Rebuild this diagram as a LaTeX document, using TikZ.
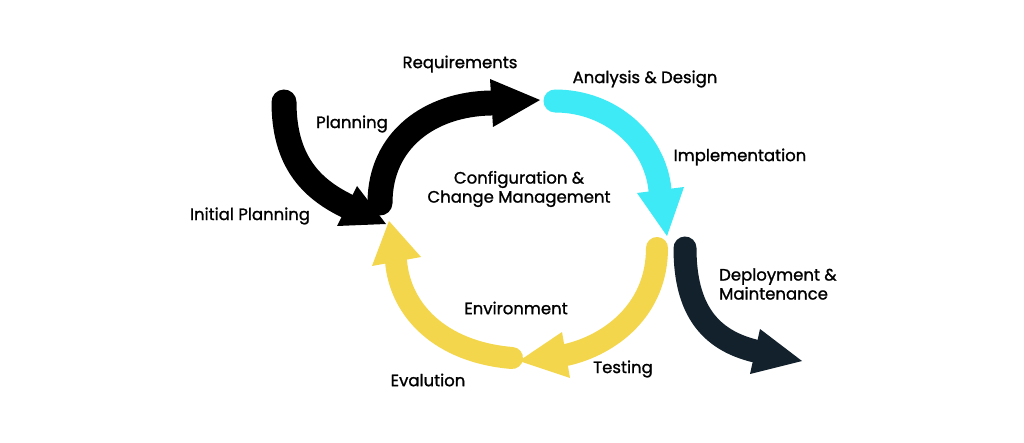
\documentclass[tikz,border=0pt]{standalone}
\usepackage{fontspec}
\setmainfont{Poppins}[FakeBold=1.2]
\definecolor{cblack}{HTML}{000000}
\definecolor{ccyan}{HTML}{3EEAF5}
\definecolor{cyellow}{HTML}{F3D64B}
\definecolor{cnavy}{HTML}{13212C}
\begin{document}
\begin{tikzpicture}[x=1pt,y=-1pt,
  shaft/.style={line width=25pt,line cap=round},
  lbl/.style={font=\fontsize{16.5}{19}\selectfont,text=black,inner sep=0pt},
  lblml/.style={lbl,align=left,anchor=west},
  lblc/.style={lbl,align=center}]
\useasboundingbox (0,0) rectangle (1024,443);
\fill[white] (0,0) rectangle (1024,443);
% Planning (black)
\draw[shaft,cblack] (284,102) .. controls (284,160) and (310,188) .. (347,206);
\fill[cblack] (337,226) -- (357,186) -- (386,224) -- cycle;
% Requirements (black)
\draw[shaft,cblack] (380,203) .. controls (380,140) and (430,104) .. (491,103);
\fill[cblack] (490,79) -- (493,127) -- (540,100) -- cycle;
% Analysis & Design (cyan)
\draw[shaft,ccyan,line width=23pt] (555,101) .. controls (610,101) and (655,140) .. (660,190);
\fill[ccyan] (637,193) -- (684,187) -- (667,236) -- cycle;
% Testing (yellow)
\draw[shaft,cyellow,line width=22pt] (657,248) .. controls (657,310) and (610,345) .. (566,355);
\fill[cyellow] (562,332) -- (570,378) -- (519,361) -- cycle;
% Evalution (yellow)
\draw[shaft,cyellow,line width=22pt] (512,358) .. controls (440,352) and (400,310) .. (396,261);
\fill[cyellow] (372,266) -- (421,257) -- (389,221) -- cycle;
% Deployment (navy)
\draw[shaft,cnavy,line width=23pt] (685,248) .. controls (685,310) and (710,340) .. (755,351);
\fill[cnavy] (760,329) -- (750,374) -- (802,361) -- cycle;
% labels
\node[lblc] (req) at (460,64) {Requirements};
\node[lblc] (ana) at (645,79) {Analysis \& Design};
\node[lblc] (plan) at (352,124) {Planning};
\node[lblc] (impl) at (740,157) {Implementation};
\node[lblc] (conf) at (519,189) {Configuration \&\\Change Management};
\node[lblc] (init) at (250,216) {Initial Planning};
\node[lblml] (dep) at (719,284) {Deployment \&\\Maintenance};
\node[lblc] (env) at (516,308) {Environment};
\node[lblc] (test) at (623,369) {Testing};
\node[lblc] (eval) at (428,380) {Evalution};
\end{tikzpicture}
\end{document}
